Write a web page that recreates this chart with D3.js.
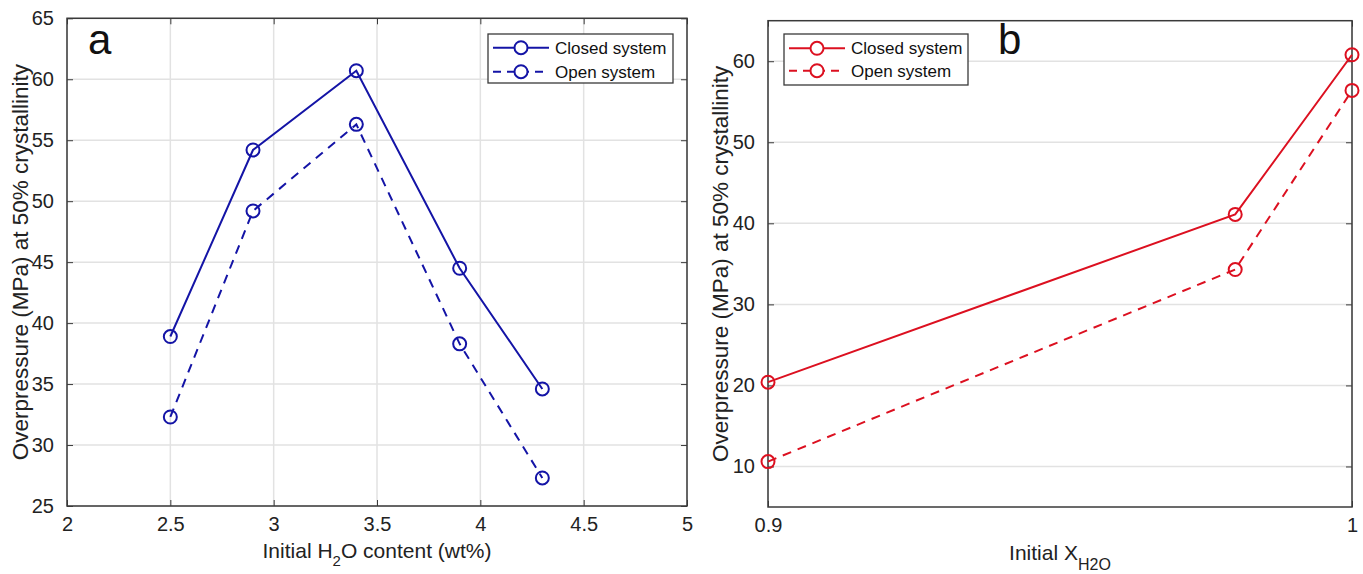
<!DOCTYPE html>
<html>
<head>
<meta charset="utf-8">
<script src="https://cdn.jsdelivr.net/npm/d3@7"></script>
<style>
  html, body { margin: 0; padding: 0; background: #fff; }
  svg { display: block; font-family: "Liberation Sans", Arial, sans-serif; }
</style>
</head>
<body>
<svg id="chart" width="1363" height="574"></svg>
<script>
// ---- Data ----
const waterContent = [2.5, 2.9, 3.4, 3.9, 4.3];
const closedA = [38.9, 54.2, 60.7, 44.5, 34.6];
const openA = [32.3, 49.2, 56.3, 38.3, 27.3];
const xTicksA = [2, 2.5, 3, 3.5, 4, 4.5, 5];
const yTicksA = [25, 30, 35, 40, 45, 50, 55, 60, 65];

const xH2O = [0.9, 0.98, 1.0];
const closedB = [20.4, 41.1, 60.8];
const openB = [10.6, 34.3, 56.4];
const xTicksB = [0.9, 1];
const yTicksB = [10, 20, 30, 40, 50, 60];

const seriesNames = ["Closed system", "Open system"];

// ---- Styles ----
const BLUE = "#1414a6";
const RED = "#dc1020";
const GRID = "#e2e2e2";
const AXIS = "#3a3a3a";

const svg = d3.select("#chart");

function panel(cfg) {
  const g = svg.append("g");
  const x = d3.scaleLinear().domain(cfg.xDomain).range([cfg.left, cfg.right]);
  const y = d3.scaleLinear().domain(cfg.yDomain).range([cfg.bottom, cfg.top]);

  // grid
  g.append("g").selectAll("line.gy").data(cfg.yTicks).join("line")
    .attr("x1", cfg.left).attr("x2", cfg.right)
    .attr("y1", d => y(d)).attr("y2", d => y(d))
    .attr("stroke", GRID).attr("stroke-width", 1.5);
  g.append("g").selectAll("line.gx").data(cfg.xTicks).join("line")
    .attr("x1", d => x(d)).attr("x2", d => x(d))
    .attr("y1", cfg.top).attr("y2", cfg.bottom)
    .attr("stroke", GRID).attr("stroke-width", 1.5);

  // axes (ticks inward)
  const tl = 6;
  const ax = d3.axisBottom(x).tickValues(cfg.xTicks).tickSize(-tl).tickPadding(tl + 5)
    .tickFormat(d3.format("~g"));
  const axT = d3.axisTop(x).tickValues(cfg.xTicks).tickSize(-tl).tickFormat("");
  const ay = d3.axisLeft(y).tickValues(cfg.yTicks).tickSize(-tl).tickPadding(tl + 7)
    .tickFormat(d3.format("~g"));
  const ayR = d3.axisRight(y).tickValues(cfg.yTicks).tickSize(-tl).tickFormat("");

  function style(sel) {
    sel.select(".domain").remove();
    sel.selectAll("line").attr("stroke", AXIS).attr("stroke-width", 1);
    sel.selectAll("text").attr("fill", "#222").style("font-size", "20px")
      .style("font-family", "Liberation Sans, Arial, sans-serif");
  }
  g.append("g").attr("transform", `translate(0,${cfg.bottom})`).call(ax).call(style);
  g.append("g").attr("transform", `translate(0,${cfg.top})`).call(axT).call(style);
  g.append("g").attr("transform", `translate(${cfg.left},0)`).call(ay).call(style);
  g.append("g").attr("transform", `translate(${cfg.right},0)`).call(ayR).call(style);

  // box
  g.append("rect").attr("x", cfg.left).attr("y", cfg.top)
    .attr("width", cfg.right - cfg.left).attr("height", cfg.bottom - cfg.top)
    .attr("fill", "none").attr("stroke", AXIS).attr("stroke-width", 1.5);

  // series
  const line = d3.line().x(d => x(d[0])).y(d => y(d[1]));
  const series = [
    { vals: cfg.closed, dash: null },
    { vals: cfg.open, dash: "9,7" }
  ];
  series.forEach(s => {
    const pts = cfg.xs.map((v, i) => [v, s.vals[i]]);
    g.append("path").datum(pts).attr("d", line)
      .attr("fill", "none").attr("stroke", cfg.color).attr("stroke-width", 2)
      .attr("stroke-dasharray", s.dash);
    g.append("g").selectAll("circle").data(pts).join("circle")
      .attr("cx", d => x(d[0])).attr("cy", d => y(d[1])).attr("r", 6.5)
      .attr("fill", "none").attr("stroke", cfg.color).attr("stroke-width", 2);
  });

  // legend
  const L = cfg.legend;
  g.append("rect").attr("x", L.x0).attr("y", L.y0)
    .attr("width", L.x1 - L.x0).attr("height", L.y1 - L.y0)
    .attr("fill", "#fff").attr("stroke", AXIS).attr("stroke-width", 1.3);
  seriesNames.forEach((name, i) => {
    const yy = L.rows[i];
    g.append("line").attr("x1", L.lx0).attr("x2", L.lx1).attr("y1", yy).attr("y2", yy)
      .attr("stroke", cfg.color).attr("stroke-width", 2)
      .attr("stroke-dasharray", i === 1 ? "8,6" : null);
    g.append("circle").attr("cx", (L.lx0 + L.lx1) / 2).attr("cy", yy).attr("r", 6.5)
      .attr("fill", "#fff").attr("stroke", cfg.color).attr("stroke-width", 2);
    g.append("text").attr("x", L.tx).attr("y", yy + 6).text(name)
      .style("font-size", "17px").attr("fill", "#111");
  });

  // panel letter
  g.append("text").attr("x", cfg.letter.x).attr("y", cfg.letter.y).text(cfg.letter.t)
    .style("font-size", "42px").attr("fill", "#111");

  // y label
  g.append("text")
    .attr("transform", `translate(${cfg.yLabelX},${(cfg.top + cfg.bottom) / 2}) rotate(-90)`)
    .attr("text-anchor", "middle").style("font-size", "22.5px").attr("fill", "#222")
    .text("Overpressure (MPa) at 50% crystallinity");

  return { x, y, g };
}

const A = panel({
  left: 67, right: 687, top: 18.3, bottom: 506,
  xDomain: [2, 5], yDomain: [25, 65], xTicks: xTicksA, yTicks: yTicksA,
  xs: waterContent, closed: closedA, open: openA, color: BLUE,
  legend: { x0: 488, x1: 673, y0: 34, y1: 83, rows: [47.7, 71.7], lx0: 493, lx1: 549, tx: 555 },
  letter: { x: 88, y: 54, t: "a" },
  yLabelX: 28
});

const B = panel({
  left: 768, right: 1352, top: 20.7, bottom: 507,
  xDomain: [0.9, 1], yDomain: [5, 65], xTicks: xTicksB, yTicks: yTicksB,
  xs: xH2O, closed: closedB, open: openB, color: RED,
  legend: { x0: 784, x1: 968, y0: 34, y1: 85, rows: [48.3, 70.7], lx0: 789, lx1: 845, tx: 851 },
  letter: { x: 998, y: 54, t: "b" },
  yLabelX: 728
});

// x labels with subscripts
const xa = svg.append("text").attr("x", (67 + 687) / 2).attr("y", 558)
  .attr("text-anchor", "middle").style("font-size", "21px").attr("fill", "#222");
xa.append("tspan").text("Initial H");
xa.append("tspan").text("2").attr("dy", 8).style("font-size", "15px");
xa.append("tspan").text("O content (wt%)").attr("dy", -8);

const xb = svg.append("text").attr("x", (768 + 1352) / 2).attr("y", 560)
  .attr("text-anchor", "middle").style("font-size", "21px").attr("fill", "#222");
xb.append("tspan").text("Initial X");
xb.append("tspan").text("H2O").attr("dy", 10).style("font-size", "16px");
</script>
</body>
</html>
